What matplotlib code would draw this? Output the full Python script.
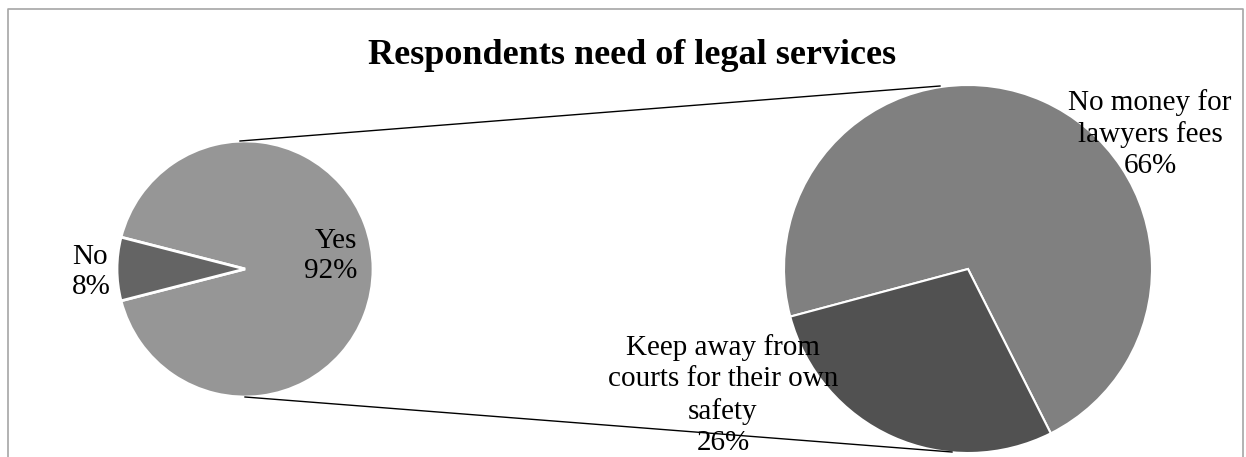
#!/usr/bin/env python3
# -*- coding: utf-8 -*-
"""
plot.py - pie of pie, respondents need of legal services
"""

import matplotlib
matplotlib.use('Agg')
import matplotlib.pyplot as plt

W, H = 1246, 457

TITLE = 'Respondents need of legal services'

# main pie
main_labels = ['Yes', 'No']
main_values = [92, 8]
main_colors = ['#969696', '#646464']

# breakdown of "Yes"
sub_labels = ['No money for\nlawyers fees', 'Keep away from\ncourts for their own\nsafety']
sub_values = [66, 26]
sub_colors = ['#808080', '#515151']

FONT = ['Liberation Serif', 'DejaVu Serif']


def py(y):  # pixel row -> data y
    return H - y


def main():
    fig = plt.figure(figsize=(W / 100, H / 100), dpi=100)
    ax = fig.add_axes([0, 0, 1, 1])

    # chart frame
    ax.plot([8, 8, 1243, 1243], [0, py(9), py(9), 0], color='#a6a6a6', lw=1.2)

    # left pie -------------
    c1, r1 = (245, py(269)), 128
    no_share = main_values[1] / sum(main_values)
    ax.pie(main_values, colors=main_colors, center=c1, radius=r1,
           startangle=180 + 180 * no_share, counterclock=True,
           wedgeprops=dict(edgecolor='white', linewidth=2), frame=True)

    # right pie ------------
    c2, r2 = (968, py(269)), 184
    ax.pie(sub_values, colors=sub_colors, center=c2, radius=r2,
           startangle=195 - 360 * sub_values[0] / sum(sub_values), counterclock=True,
           wedgeprops=dict(edgecolor='white', linewidth=1.5), frame=True)
    ax.set_xlim(0, W)
    ax.set_ylim(0, H)
    ax.set_aspect('equal')
    ax.axis('off')

    # connector lines
    ax.plot([c1[0] - 5, 940], [c1[1] + r1, py(86)], color='black', lw=1)
    ax.plot([c1[0], 952], [c1[1] - r1, py(452)], color='black', lw=1)

    # labels
    fs = 21
    ls = 1.25
    ax.text(357, py(256), '%s\n%d%%' % (main_labels[0], main_values[0]), ha='right', va='center',
            fontsize=fs, family=FONT, multialignment='right', linespacing=ls)
    ax.text(72, py(272), '%s\n%d%%' % (main_labels[1], main_values[1]), ha='left', va='center',
            fontsize=fs, family=FONT, multialignment='left', linespacing=ls)
    ax.text(1150, py(134), '%s\n%d%%' % (sub_labels[0], sub_values[0]), ha='center', va='center',
            fontsize=fs, family=FONT, linespacing=ls)
    ax.text(723, py(395), '%s\n%d%%' % (sub_labels[1], sub_values[1]), ha='center', va='center',
            fontsize=fs, family=FONT, linespacing=ls)

    ax.text(632, py(56), TITLE, ha='center', va='center', fontsize=26,
            fontweight='bold', family=FONT)

    fig.savefig('out.png', dpi=100)


if __name__ == "__main__":
    main()
